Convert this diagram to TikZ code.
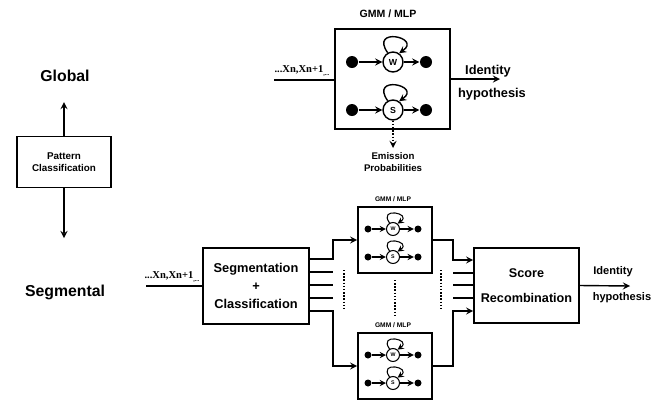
\documentclass[tikz,border=0pt]{standalone}
\usepackage{fontspec}
\setmainfont{Liberation Sans}
\newfontfamily\inputfont{Liberation Serif}
\begin{document}
\begin{tikzpicture}[>=stealth,x=0.02cm,y=-0.02cm,line width=0.8pt,
	box/.style={draw,line width=0.9pt,inner sep=0pt},
	state/.style={circle,draw,inner sep=0pt,minimum size=0.4cm,font=\bfseries\fontsize{5}{5}\selectfont},
	sstate/.style={circle,draw,line width=0.6pt,inner sep=0pt,minimum size=0.26cm,font=\bfseries\fontsize{3}{3}\selectfont},
	dot/.style={circle,fill,inner sep=0pt,minimum size=0.24cm},
	sdot/.style={circle,fill,inner sep=0pt,minimum size=0.14cm},
	lbl/.style={font=\bfseries\fontsize{#1}{#1}\selectfont,inner sep=0pt,align=center},
	seq/.style={font=\inputfont\bfseries\fontsize{6}{6}\selectfont,inner sep=1pt,anchor=south}]
	\useasboundingbox (0,0) rectangle (652,400);
	% left part
	\node[lbl=9] (glob) at (65,76) {Global};
	\node[lbl=9] (segm) at (65,292) {Segmental};
	\node[box,minimum width=1.88cm,minimum height=1.02cm,lbl=5.6] (pc) at (64,162) {Pattern\\[1.5pt]Classification};
	\coordinate (gtip) at (64,102);
	\coordinate (stip) at (64,238);
	\draw[->] (pc.north) -- (gtip);
	\draw[->] (pc.south) -- (stip);
	% global model
	\node[lbl=6] (gtitle) at (388,14) {GMM / MLP};
	\node[box,minimum width=2.3cm,minimum height=2cm] (gmm) at (392.5,79) {};
	\node[state] (w) at (393,62) {W};
	\node[state] (s) at (393,110) {S};
	\node[dot] (wl) at (352,62) {};
	\node[dot] (wr) at (426,62) {};
	\node[dot] (sl) at (352,110) {};
	\node[dot] (sr) at (426,110) {};
	\draw[->] (wl) -- (w);
	\draw[->] (w) -- (wr);
	\draw[->] (sl) -- (s);
	\draw[->] (s) -- (sr);
	\draw[->] (w.120) .. controls +(235:32) and +(325:28) .. (w.55);
	\draw[->] (s.120) .. controls +(235:32) and +(325:28) .. (s.55);
	\coordinate (emi) at (393,148);
	\draw[->,densely dotted] (s.south) -- (emi);
	\node[lbl=5.5] (emitxt) at (393,162) {Emission\\[1.2pt]Probabilities};
	\coordinate (in1) at (274,80);
	\draw (in1) -- (in1 -| gmm.west);
	\node[seq] (seq1) at (302,79) {...Xn,Xn+1\raisebox{-1.5pt}{\fontsize{3.5}{3.5}\selectfont,...}};
	\coordinate (out1) at (500,79);
	\draw[->] (gmm.east) -- (out1);
	\node[lbl=7.3] (id1) at (488,71) {Identity};
	\node[lbl=7.3] (hyp1) at (492,94) {hypothesis};
	% segmental models
	\node[box,minimum width=2.12cm,minimum height=1.52cm,lbl=7.3] (seg) at (256,286) {Segmentation\\[3pt]+\\[3pt]Classification};
	\coordinate (in2) at (146,286);
	\draw (in2) -- (seg.west);
	\node[seq] (seq2) at (172,285) {...Xn,Xn+1\raisebox{-1.5pt}{\fontsize{3.5}{3.5}\selectfont,...}};
	\foreach \n/\yc in {a/240,b/366}{
		\node[box,minimum width=1.48cm,minimum height=1.32cm] (hmm\n) at (395,\yc) {};
		\node[lbl=3.8] (t\n) at (393,\yc-41) {GMM / MLP};
		\node[sstate] (w\n) at (393,\yc-11) {W};
		\node[sstate] (s\n) at (393,\yc+17) {S};
		\node[sdot] (wl\n) at (368,\yc-11) {};
		\node[sdot] (wr\n) at (418,\yc-11) {};
		\node[sdot] (sl\n) at (368,\yc+17) {};
		\node[sdot] (sr\n) at (418,\yc+17) {};
		\draw[->,line width=0.6pt] (wl\n) -- (w\n);
		\draw[->,line width=0.6pt] (w\n) -- (wr\n);
		\draw[->,line width=0.6pt] (sl\n) -- (s\n);
		\draw[->,line width=0.6pt] (s\n) -- (sr\n);
		\draw[->,line width=0.6pt] (w\n.120) .. controls +(235:20) and +(325:18) .. (w\n.50);
		\draw[->,line width=0.6pt] (s\n.120) .. controls +(235:20) and +(325:18) .. (s\n.50);
	}
	\node[box,minimum width=2.1cm,minimum height=1.5cm,lbl=7.2] (sc) at (526.5,285.5) {Score\\[7pt]Recombination};
	% to the models
	\draw[->] (seg.east |- 0,259) -- (333,259) |- (hmma.west);
	\draw[->] (seg.east |- 0,311) -- (333,311) |- (hmmb.west);
	\foreach \y in {272,285,298}\draw (seg.east |- 0,\y) -- (333,\y);
	% to the recombination
	\draw[->] (hmma.east) -| (453,260) -- (sc.west |- 0,260);
	\draw[->] (hmmb.east) -| (453,311) -- (sc.west |- 0,311);
	\foreach \y in {273,285,298}\draw (453,\y) -- (sc.west |- 0,\y);
	\draw[densely dotted] (344,270) -- (344,308);
	\draw[densely dotted] (395,280) -- (395,315);
	\draw[densely dotted] (441,270) -- (441,308);
	\coordinate (out2) at (630,286);
	\draw[->] (sc.east) -- (out2);
	\node[lbl=6.3] (id2) at (613,272) {Identity};
	\node[lbl=6.3] (hyp2) at (622,298) {hypothesis};
\end{tikzpicture}
\end{document}
